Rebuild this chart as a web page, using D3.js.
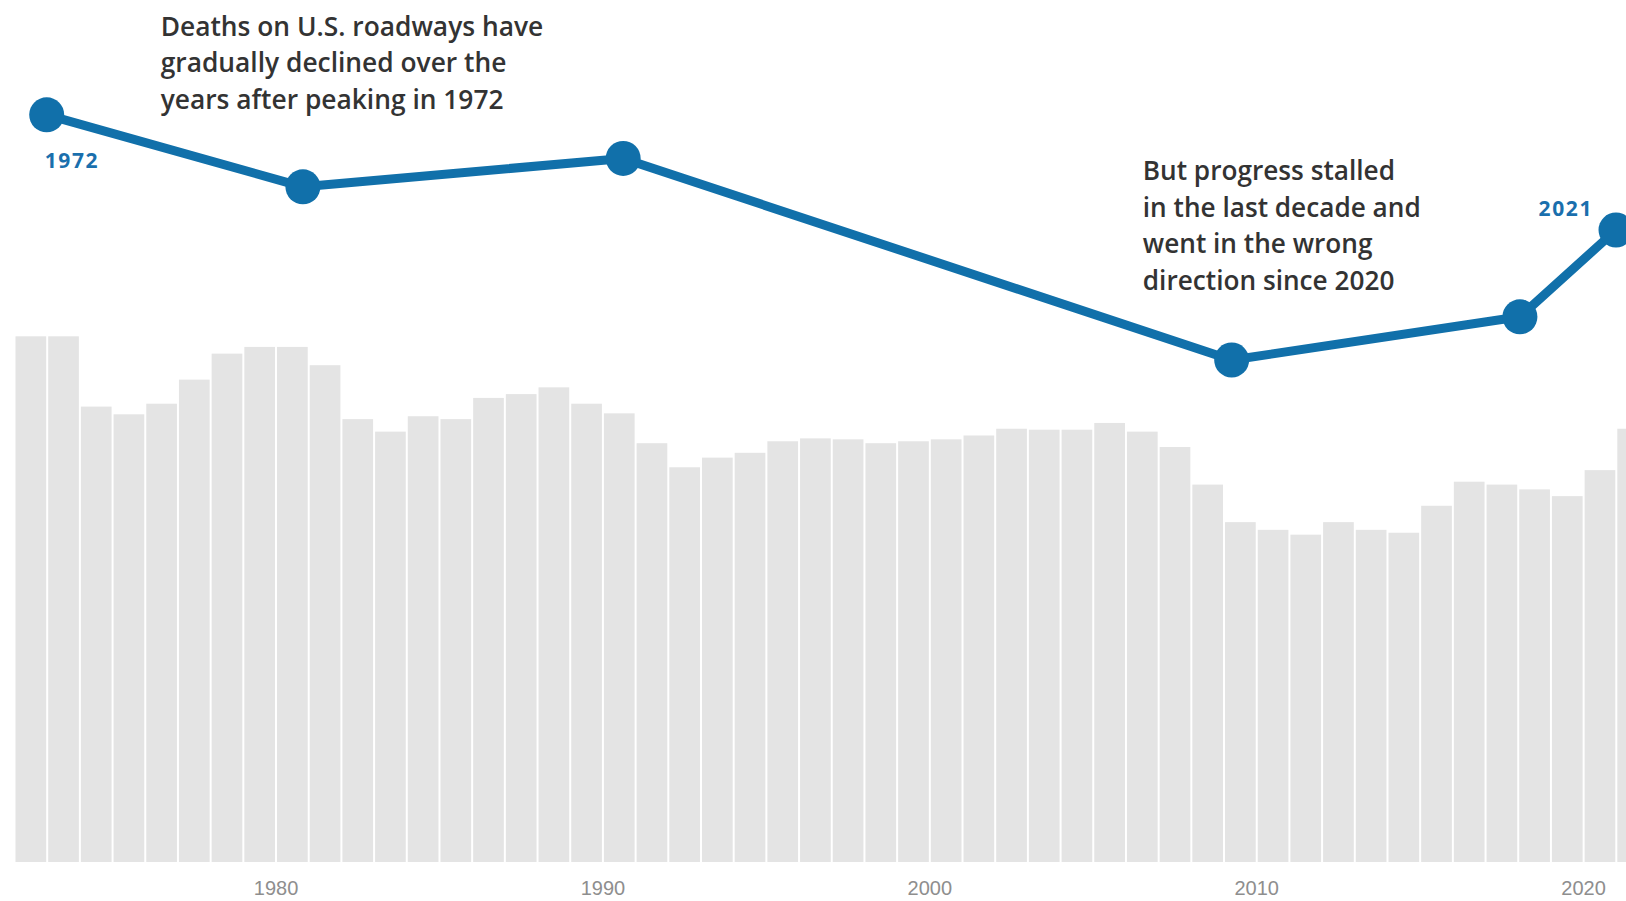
<!DOCTYPE html>
<html>
<head>
<meta charset="utf-8">
<script src="https://cdn.jsdelivr.net/npm/d3@7"></script>
<style>
  html, body { margin: 0; padding: 0; background: #ffffff; }
  svg { display: block; }
</style>
</head>
<body>
<svg id="chart" width="1626" height="901"></svg>
<script>
// ---- Data ----
const barYears = [1972,1973,1974,1975,1976,1977,1978,1979,1980,1981,
                  1982,1983,1984,1985,1986,1987,1988,1989,1990,1991,
                  1992,1993,1994,1995,1996,1997,1998,1999,2000,2001,
                  2002,2003,2004,2005,2006,2007,2008,2009,2010,2011,
                  2012,2013,2014,2015,2016,2017,2018,2019,2020,2021];
// Roadway deaths, thousands
const barValues = [54.6,54.6,47.3,46.5,47.6,50.1,52.8,53.5,53.5,51.6,
                   46.0,44.7,46.3,46.0,48.2,48.6,49.3,47.6,46.6,43.5,
                   41.0,42.0,42.5,43.7,44.0,43.9,43.5,43.7,43.9,44.3,
                   45.0,44.9,44.9,45.6,44.7,43.1,39.2,35.3,34.5,34.0,
                   35.3,34.5,34.2,37.0,39.5,39.2,38.7,38.0,40.7,45.0];
// Highlight line (index, estimated from point positions)
const lineYears  = [1972, 1980, 1990, 2009, 2018, 2021];
const lineValues = [96.3, 78.3, 85.4, 35.0, 45.8, 67.5];
const tickYears  = [1980, 1990, 2000, 2010, 2020];
const labelYears = [1972, 2021];
const note1 = ["Deaths on U.S. roadways have", "gradually declined over the", "years after peaking in 1972"];
const note2 = ["But progress stalled", "in the last decade and", "went in the wrong", "direction since 2020"];

// ---- Layout ----
const svg = d3.select("#chart");
const baseY = 862;
const pitch = 32.69;
const xBar = d3.scaleLinear().domain([1972, 2022]).range([15, 15 + 50 * pitch]);
const yBar = d3.scaleLinear().domain([0, 60]).range([baseY, baseY - 60 * 9.628]);
const xLine = d3.scaleLinear().domain([1972, 2021]).range([46.7, 1616]);
const yLine = d3.scaleLinear().domain([0, 100]).range([500, 100]);

const blue = "#1170aa";

// Bars
svg.append("g").selectAll("rect")
  .data(barYears.map((y, i) => ({year: y, value: barValues[i]})))
  .join("rect")
  .attr("x", d => xBar(d.year) + 0.5)
  .attr("width", d => xBar(d.year + 1) - xBar(d.year) - 2)
  .attr("y", d => yBar(d.value))
  .attr("height", d => yBar(0) - yBar(d.value))
  .attr("fill", "#e4e4e4");

// X axis (labels only)
const axis = d3.axisBottom(xBar).tickValues(tickYears).tickFormat(d3.format("d")).tickSize(0).tickPadding(0);
const gAxis = svg.append("g").attr("transform", `translate(0,${baseY})`).call(axis);
gAxis.select(".domain").remove();
gAxis.selectAll("text")
  .attr("y", 0)
  .attr("dy", 0)
  .attr("transform", "translate(-1,33)")
  .attr("fill", "#8e8e8e")
  .style("font-family", "'Liberation Sans', Arial, sans-serif")
  .style("font-size", "20px");

// Line
const line = d3.line().x((d, i) => xLine(lineYears[i])).y(d => yLine(d));
svg.append("path")
  .datum(lineValues)
  .attr("d", line)
  .attr("fill", "none")
  .attr("stroke", blue)
  .attr("stroke-width", 9)
  .attr("stroke-linejoin", "round");

svg.append("g").selectAll("circle")
  .data(lineValues)
  .join("circle")
  .attr("cx", (d, i) => xLine(lineYears[i]))
  .attr("cy", d => yLine(d))
  .attr("r", 17.5)
  .attr("fill", blue);

// Year labels on the line
const lbl = svg.append("g")
  .style("font-family", "'Open Sans', 'Noto Sans', sans-serif")
  .style("font-weight", "700")
  .style("font-size", "21px")
  .style("letter-spacing", "1.6px")
  .attr("fill", "#1a6fad");
lbl.append("text")
  .attr("x", xLine(labelYears[0]) - 2)
  .attr("y", yLine(lineValues[0]) + 53)
  .text(labelYears[0]);
lbl.append("text")
  .attr("x", xLine(labelYears[1]) - 23)
  .attr("y", yLine(lineValues[lineValues.length - 1]) - 14)
  .attr("text-anchor", "end")
  .text(labelYears[1]);

// Annotations
function note(lines, x, y0, lh, targetWidth) {
  const g = svg.append("g")
    .style("font-family", "'Open Sans', 'Noto Sans', sans-serif")
    .style("font-weight", "600")
    .style("font-size", "25px")
    .attr("fill", "#333333");
  const t = g.selectAll("text").data(lines).join("text")
    .attr("x", x).attr("y", (d, i) => y0 + i * lh).text(d => d);
  let maxW = 0;
  t.each(function() { maxW = Math.max(maxW, this.getComputedTextLength()); });
  const fs = 25 * targetWidth / maxW;
  g.style("font-size", fs + "px");
}
note(note1, 160.7, 36, 36.4, 382.7);
note(note2, 1142.8, 180.4, 36.4, 278);
</script>
</body>
</html>
